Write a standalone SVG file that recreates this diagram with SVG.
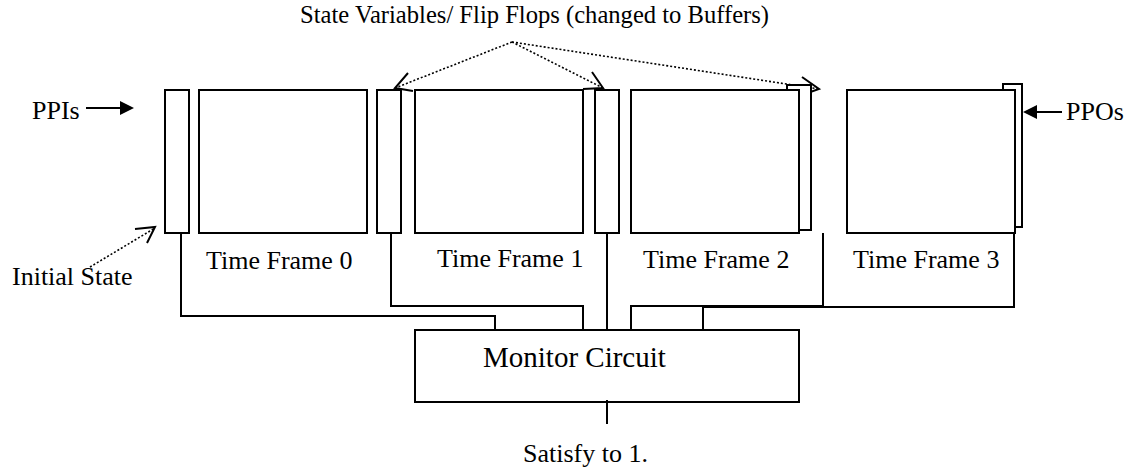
<svg xmlns="http://www.w3.org/2000/svg" width="1143" height="472" viewBox="0 0 1143 472">
  <style>
    .box { fill: #fff; stroke: #000; stroke-width: 2; }
    .wire { fill: none; stroke: #000; stroke-width: 2; }
    .dot { fill: none; stroke: #000; stroke-width: 1.6; stroke-dasharray: 2 2; }
    .head { fill: none; stroke: #000; stroke-width: 2; }
    .t { font-family: "Liberation Serif", "Times New Roman", serif; font-size: 26px; fill: #000; }
  </style>
  <rect width="1143" height="472" fill="#fff"/>

  <!-- heading and its dotted pointers -->
  <g id="state-vars-label">
    <text class="t" x="300" y="23" style="font-size:24.6px">State Variables/ Flip Flops (changed to Buffers)</text>
    <path class="dot" d="M512,42 L395,88"/>
    <path class="dot" d="M512,42 L603,88"/>
    <path class="dot" d="M512,42 L819,89"/>
    <path class="head" d="M408,73 L395,88 L413,91"/>
    <path class="head" d="M592,72 L603,88 L583,89"/>
    <path class="head" d="M802,77 L819,89 L799,96"/>
  </g>

  <!-- primary inputs -->
  <g id="ppis">
    <text class="t" x="32" y="119">PPIs</text>
    <line class="wire" x1="86" y1="108" x2="121" y2="108"/>
    <polygon points="120,101 134,108 120,115" fill="#000"/>
  </g>

  <!-- primary outputs -->
  <g id="ppos">
    <text class="t" x="1066" y="120">PPOs</text>
    <line class="wire" x1="1036" y1="112" x2="1062" y2="112"/>
    <polygon points="1037,105 1023,112 1037,119" fill="#000"/>
  </g>

  <!-- initial state buffer -->
  <g id="initial-buffer">
    <rect class="box" x="165" y="90" width="24" height="143"/>
  </g>
  <g id="initial-state-label">
    <text class="t" x="12" y="285">Initial State</text>
    <path class="dot" d="M90,267 L155,228"/>
    <path class="head" d="M135,229 L155,227 L147,243"/>
  </g>

  <!-- time frames -->
  <g id="frame0">
    <rect class="box" x="199" y="90" width="168" height="143"/>
    <text class="t" x="206" y="269">Time Frame 0</text>
  </g>
  <g id="buffer1">
    <rect class="box" x="377" y="90" width="24" height="143"/>
  </g>
  <g id="frame1">
    <rect class="box" x="415" y="90" width="168" height="143"/>
    <text class="t" x="437" y="267">Time Frame 1</text>
  </g>
  <g id="buffer2">
    <rect class="box" x="595" y="90" width="24" height="143"/>
  </g>
  <g id="buffer3">
    <rect class="box" x="787" y="85" width="24" height="145"/>
  </g>
  <g id="frame2">
    <rect class="box" x="631" y="90" width="168" height="143"/>
    <text class="t" x="643" y="268">Time Frame 2</text>
  </g>
  <g id="output-buffer">
    <rect class="box" x="1003" y="84" width="19" height="143"/>
  </g>
  <g id="frame3">
    <rect class="box" x="847" y="90" width="168" height="143"/>
    <text class="t" x="853" y="268">Time Frame 3</text>
  </g>

  <!-- monitor -->
  <g id="monitor">
    <rect class="box" x="415" y="330" width="384" height="72"/>
    <text class="t" x="483" y="367" style="font-size:29px">Monitor Circuit</text>
  </g>
  <g id="result-label">
    <text class="t" x="523" y="462">Satisfy to 1.</text>
  </g>

  <!-- wiring into the monitor -->
  <g id="connectors">
    <path class="wire" d="M181,233 V316 H495 V330"/>
    <path class="wire" d="M391,233 V306 H583 V330"/>
    <path class="wire" d="M607,233 V330"/>
    <path class="wire" d="M823,233 V306 H631 V330"/>
    <path class="wire" d="M1014,233 V307 H703 V330"/>
    <path class="wire" d="M607,400 V424"/>
  </g>
</svg>
